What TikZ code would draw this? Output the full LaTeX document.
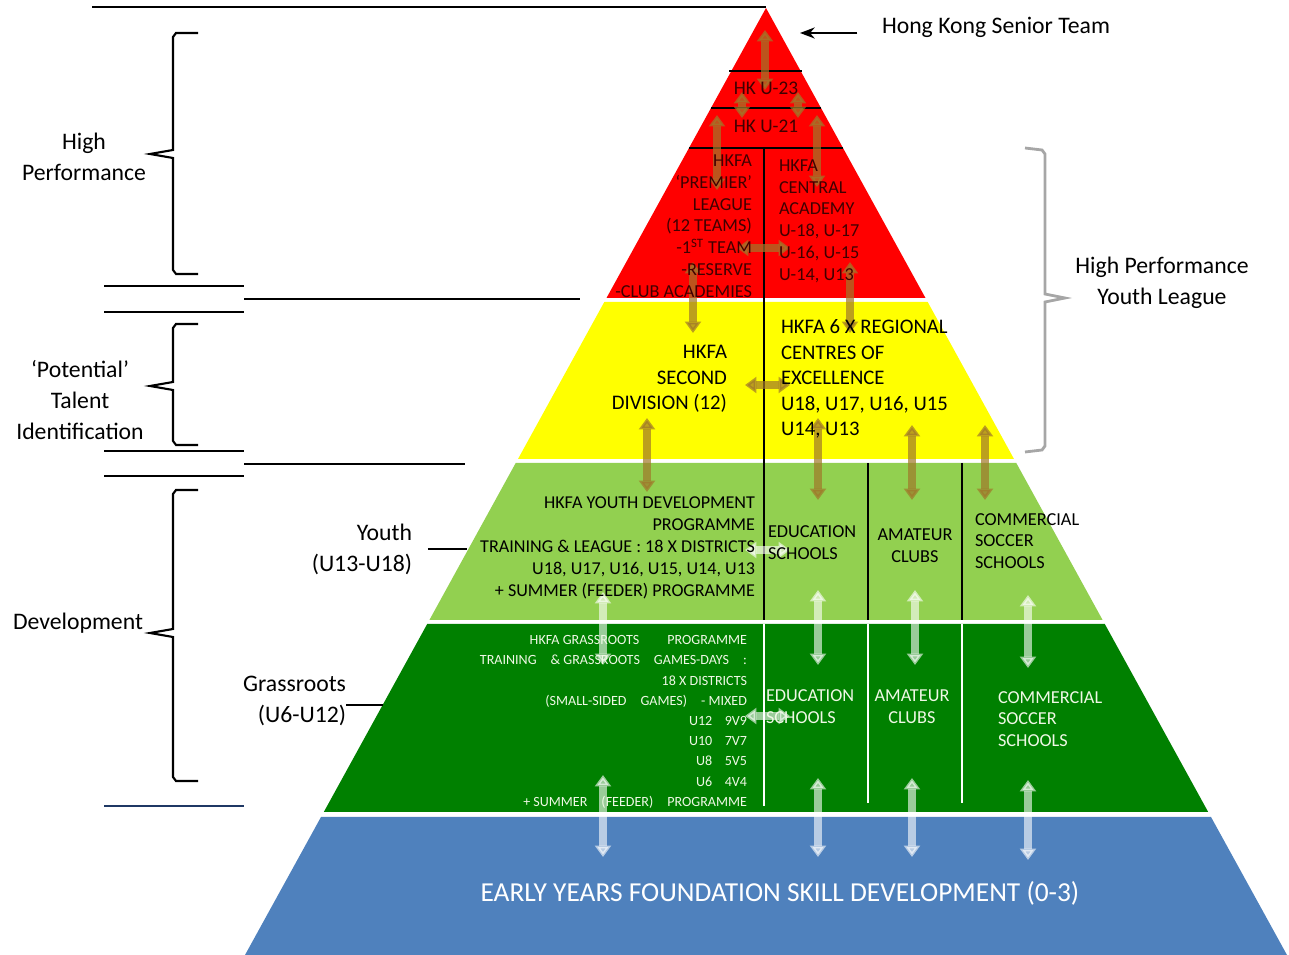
\documentclass[tikz,border=0pt]{standalone}
\usepackage{fontspec}
\setmainfont{Carlito}
\usetikzlibrary{arrows.meta}

\definecolor{hkred}{HTML}{FF0000}
\definecolor{hkyellow}{HTML}{FFFF00}
\definecolor{hklime}{HTML}{92D050}
\definecolor{hkgreen}{HTML}{008000}
\definecolor{hkblue}{HTML}{4F81BD}
\definecolor{hkgold}{HTML}{A0782A}
\definecolor{hkgrey}{HTML}{A6A6A6}
\definecolor{hknavy}{HTML}{1F3864}

\begin{document}
\begin{tikzpicture}[x=0.02cm, y=-0.02cm, >=Stealth,
    every node/.style={inner sep=0pt, outer sep=0pt},
    side/.style={font=\fontsize{13.5}{17.6}\selectfont, align=center},
    tier/.style={font=\fontsize{10.4}{12.4}\selectfont},
    goldarrow/.style={line width=4.5pt, draw=hkgold, opacity=0.7,
        {Triangle[width=9pt,length=6.5pt]}-{Triangle[width=9pt,length=6.5pt]}},
    whitearrow/.style={goldarrow, draw=white, opacity=0.6}]
    \useasboundingbox (0,0) rectangle (1289,955);

    % pyramid bands
    \fill[hkred] (766,8) -- (925.5,298) -- (606.5,298) -- cycle;
    \fill[hkyellow] (604.3,302) -- (927.7,302) -- (1014,459) -- (518,459) -- cycle;
    \fill[hklime] (515.7,463) -- (1016.3,463) -- (1102.6,620) -- (429.4,620) -- cycle;
    \fill[hkgreen] (427.2,624) -- (1104.8,624) -- (1208.2,812) -- (323.8,812) -- cycle;
    \fill[hkblue] (321,817) -- (1211,817) -- (1287,955) -- (245,955) -- cycle;

    % dividers
    \draw[line width=1.2pt] (729,71) -- (802,71) (711,108) -- (821,108) (689,148) -- (843,148);
    \draw[line width=1.2pt] (764,148) -- (764,620);
    \draw[line width=1.2pt] (868,463) -- (868,620) (962,463) -- (962,620);
    \draw[white, line width=1.2pt] (764,624) -- (764,806) (868,624) -- (868,803) (962,624) -- (962,803);

    % pathway arrows
    \foreach \xa/\ya/\xb/\yb in {765/30/765/90, 742/92/742/118, 798/92/798/118,
        717/115/717/190, 817/115/817/187, 737/248/790/248, 693/262/693/333,
        850/262/850/333, 745/385/790/385, 647/418/647/492, 818/418/818/500,
        912/425/912/500, 985/425/985/500}
        \draw[goldarrow] (\xa,\ya) -- (\xb,\yb);
    \foreach \xa/\ya/\xb/\yb in {745/550/790/550, 603/592/603/665, 818/590/818/665,
        915/590/915/665, 1028/595/1028/668, 745/716/790/716, 603/775/603/857,
        818/778/818/857, 912/778/912/857, 1028/780/1028/860}
        \draw[whitearrow] (\xa,\ya) -- (\xb,\yb);

    % left rules and brackets
    \draw[line width=1.2pt] (92,7) -- (766,7);
    \draw[line width=1.2pt] (104,286) -- (244,286) (244,299) -- (580,299) (104,312) -- (244,312);
    \draw[line width=1.2pt] (104,451) -- (244,451) (244,464) -- (465,464) (104,476) -- (244,476);
    \draw[hknavy, line width=1.2pt] (104,806) -- (244,806);
    \foreach \ta/\mi/\bo in {33/154/274, 324/386/445, 490/633/781}
        \draw[line width=1.2pt] (198,\ta) -- (176,\ta) -- (173,\ta+4) -- (173,\mi-4)
            -- (150,\mi) -- (173,\mi+4) -- (173,\bo-4) -- (176,\bo) -- (198,\bo);
    \draw[hkgrey, line width=1.6pt] (1025,148) -- (1042,150) -- (1045,154) -- (1045,294)
        -- (1065,298) -- (1045,302) -- (1045,446) -- (1042,450) -- (1025,452);

    % side labels
    \node[side] (highperf) at (84,157) {High\\Performance};
    \node[side] (potential) at (80,400) {‘Potential’\\Talent\\Identification};
    \node[side] (develop) at (78,623) {Development};
    \node[side, align=right, anchor=east] (youth) at (412,549) {Youth\\(U13-U18)};
    \node[side, align=right, anchor=east] (grassroots) at (346,701) {Grassroots\\(U6-U12)};
    \node[side] (hpyl) at (1162,283) {High Performance\\Youth League};
    \node[side, anchor=west] (senior) at (882,27) {Hong Kong Senior Team};
    \coordinate (apexmark) at (800,33);
    \coordinate (limeedge) at (467,549);
    \coordinate (greenedge) at (383,705);
    \draw[->, line width=1.2pt, shorten <=14pt] (senior.west |- apexmark) -- (apexmark);
    \draw[line width=1.2pt] ([xshift=9pt]youth.east) -- (limeedge);
    \draw[line width=1.2pt] (grassroots.east |- greenedge) -- (greenedge);

    % red tier
    \node[tier, font=\fontsize{11}{12.4}\selectfont, text=hkred!25!black] (u23) at (766,88) {HK U-23};
    \node[tier, font=\fontsize{11}{12.4}\selectfont, text=hkred!25!black] (u21) at (766,126) {HK U-21};
    \node[tier, text=hkred!25!black, align=right, anchor=east] (premier) at (752,226)
        {HKFA\\‘PREMIER’\\LEAGUE\\(12 TEAMS)\\-1\textsuperscript{ST} TEAM\\-RESERVE\\-CLUB ACADEMIES};
    \node[tier, text=hkred!25!black, align=left, anchor=west] (central) at (779,221)
        {HKFA\\CENTRAL\\ACADEMY\\U-18, U-17\\U-16, U-15\\U-14, U13};

    % yellow tier
    \node[tier, font=\fontsize{11.8}{14.5}\selectfont, align=right, anchor=east] (second) at (727,379)
        {HKFA\\SECOND\\DIVISION (12)};
    \node[tier, font=\fontsize{11.8}{14.5}\selectfont, align=left, anchor=west] (regional) at (781,379)
        {HKFA 6 X REGIONAL\\CENTRES OF\\EXCELLENCE\\U18, U17, U16, U15\\U14, U13};

    % light green tier
    \node[tier, font=\fontsize{10.3}{12.6}\selectfont, align=right, anchor=east] (youthprog) at (755,548)
        {HKFA YOUTH DEVELOPMENT\\PROGRAMME\\TRAINING \& LEAGUE : 18 X DISTRICTS\\U18, U17, U16, U15, U14, U13\\+ SUMMER (FEEDER) PROGRAMME};
    \node[tier, align=left, anchor=west] (eduyouth) at (768,543) {EDUCATION\\SCHOOLS};
    \node[tier, align=center] (amayouth) at (915,546) {AMATEUR\\CLUBS};
    \node[tier, align=left, anchor=west] (comyouth) at (975,541) {COMMERCIAL\\SOCCER\\SCHOOLS};

    % dark green tier
    \node[font=\fontsize{8}{11.5}\selectfont, text=white!85!hklime, align=right, anchor=east] (grassprog) at (747,722)
        {HKFA GRASSROOTS\quad\quad PROGRAMME\\TRAINING\quad \& GRASSROOTS\quad GAMES-DAYS\quad :\\18 X DISTRICTS\\(SMALL-SIDED\quad GAMES)\quad - MIXED\\
         \makebox[8mm][r]{U12}\hspace{2.5mm}9V9\\\makebox[8mm][r]{U10}\hspace{2.5mm}7V7\\
         \makebox[8mm][r]{U8}\hspace{2.5mm}5V5\\\makebox[8mm][r]{U6}\hspace{2.5mm}4V4\\
         + SUMMER\quad (FEEDER)\quad PROGRAMME};
    \node[tier, text=white!85!hklime, align=left, anchor=west] (edugrass) at (766,707) {EDUCATION\\SCHOOLS};
    \node[tier, text=white!85!hklime, align=center] (amagrass) at (912,707) {AMATEUR\\CLUBS};
    \node[tier, text=white!85!hklime, align=left, anchor=west] (comgrass) at (998,719) {COMMERCIAL\\SOCCER\\SCHOOLS};

    % blue tier
    \node[font=\fontsize{15.6}{18}\selectfont, text=white] (early) at (780,893)
        {EARLY YEARS FOUNDATION SKILL DEVELOPMENT (0-3)};
\end{tikzpicture}
\end{document}
